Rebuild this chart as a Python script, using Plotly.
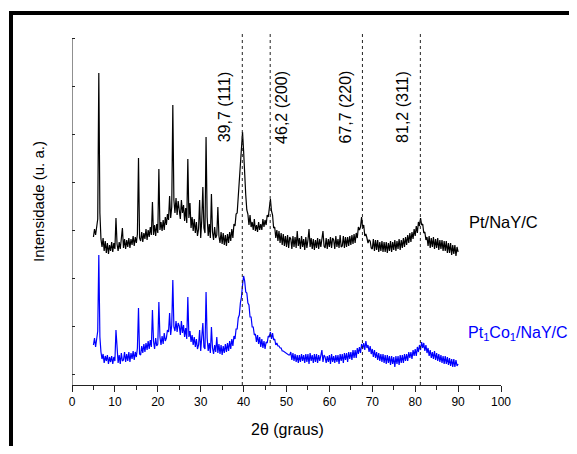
import plotly.graph_objects as go

# 2-theta grid (degrees), 0.25 deg step from 5 to 90
two_theta = [5 + 0.25 * i for i in range(341)]

# Pt/NaY/C (black), arbitrary units (one row per degree)
pt_nay_c = [
    148, 156, 150, 160,
    166, 312, 172, 146,
    138, 147, 134, 144,
    132, 142, 131, 140,
    134, 143, 133, 142,
    136, 167, 141, 134,
    143, 136, 145, 157,
    137, 146, 136, 145,
    138, 147, 137, 146,
    140, 149, 139, 148,
    142, 151, 227, 147,
    144, 153, 143, 152,
    146, 156, 145, 155,
    148, 158, 150, 183,
    150, 160, 149, 161,
    152, 216, 155, 163,
    154, 165, 155, 168,
    160, 171, 165, 189,
    167, 178, 280, 185,
    172, 187, 170, 184,
    175, 166, 185, 172,
    180, 164, 177, 162,
    226, 167, 182, 157,
    168, 154, 166, 152,
    163, 149, 156, 185,
    147, 165, 198, 157,
    152, 248, 168, 149,
    161, 147, 191, 153,
    145, 158, 147, 150,
    178, 149, 142, 153,
    141, 152, 140, 150,
    139, 151, 142, 153,
    144, 156, 147, 161,
    159, 171, 172, 190,
    198, 218, 236, 253,
    234, 203, 190, 175,
    171, 160, 170, 158,
    163, 155, 166, 154,
    160, 153, 163, 155,
    161, 155, 166, 158,
    165, 160, 170, 168,
    180, 186, 174, 170,
    157, 158, 147, 155,
    144, 154, 142, 152,
    140, 151, 139, 149,
    138, 150, 137, 148,
    146, 136, 149, 138,
    148, 137, 154, 139,
    147, 136, 149, 138,
    146, 135, 148, 137,
    145, 156, 138, 147,
    136, 146, 135, 145,
    137, 147, 136, 146,
    138, 148, 154, 139,
    137, 147, 136, 146,
    138, 148, 137, 147,
    145, 136, 149, 138,
    146, 137, 150, 138,
    139, 149, 137, 148,
    138, 148, 139, 149,
    140, 150, 141, 151,
    142, 152, 147, 158,
    155, 158, 168, 157,
    160, 149, 151, 147,
    142, 145, 144, 137,
    136, 146, 134, 145,
    135, 145, 133, 143,
    134, 144, 133, 143,
    133, 143, 132, 142,
    134, 144, 133, 143,
    135, 145, 134, 144,
    136, 146, 135, 145,
    137, 147, 138, 148,
    140, 150, 142, 152,
    143, 153, 146, 156,
    149, 159, 152, 163,
    159, 167, 160, 161,
    152, 153, 145, 148,
    139, 149, 137, 147,
    138, 148, 136, 146,
    137, 147, 135, 145,
    136, 145, 134, 144,
    134, 144, 132, 142,
    132, 142, 130, 140,
    131, 140, 129, 138,
    133,
]

# Pt1Co1/NaY/C (blue), arbitrary units (one row per degree)
pt1co1_nay_c = [
    40, 47, 38, 50,
    54, 130, 48, 33,
    26, 31, 22, 29,
    24, 30, 21, 28,
    23, 29, 21, 28,
    24, 55, 31, 22,
    30, 21, 32, 24,
    25, 33, 23, 31,
    24, 33, 23, 32,
    26, 34, 25, 33,
    28, 37, 77, 31,
    30, 39, 32, 41,
    33, 42, 35, 44,
    36, 45, 38, 75,
    44, 36, 47, 39,
    41, 83, 48, 40,
    49, 41, 52, 44,
    47, 55, 53, 72,
    50, 60, 105, 58,
    54, 64, 53, 62,
    59, 50, 64, 52,
    60, 48, 57, 46,
    88, 48, 54, 43,
    50, 40, 48, 38,
    46, 36, 40, 55,
    34, 46, 62, 38,
    36, 93, 47, 34,
    42, 32, 58, 37,
    31, 40, 33, 48,
    32, 41, 31, 40,
    30, 39, 32, 41,
    33, 42, 34, 44,
    36, 46, 39, 49,
    46, 56, 56, 67,
    70, 82, 88, 100,
    109, 104, 93, 92,
    82, 80, 68, 68,
    58, 58, 50, 51,
    43, 50, 41, 48,
    38, 46, 37, 44,
    36, 43, 42, 49,
    48, 53, 46, 52,
    45, 46, 40, 42,
    39, 39, 37, 37,
    34, 34, 33, 33,
    31, 31, 30, 30,
    33, 25, 32, 24,
    31, 23, 30, 22,
    30, 23, 31, 24,
    30, 22, 31, 23,
    31, 21, 32, 24,
    30, 22, 31, 23,
    31, 22, 30, 24,
    29, 35, 23, 30,
    28, 22, 29, 23,
    30, 21, 31, 23,
    29, 22, 30, 23,
    30, 21, 31, 24,
    31, 22, 32, 25,
    32, 23, 33, 26,
    33, 25, 35, 27,
    35, 27, 37, 31,
    38, 32, 41, 36,
    42, 35, 44, 37,
    40, 33, 39, 31,
    36, 28, 35, 27,
    33, 25, 32, 24,
    31, 23, 31, 22,
    30, 21, 30, 22,
    29, 20, 29, 21,
    28, 18, 29, 21,
    29, 20, 30, 22,
    30, 22, 31, 24,
    31, 24, 33, 27,
    33, 26, 35, 29,
    36, 29, 38, 33,
    40, 35, 43, 37,
    42, 34, 40, 32,
    37, 29, 35, 27,
    33, 26, 34, 25,
    32, 24, 31, 23,
    30, 22, 29, 21,
    29, 21, 28, 20,
    27, 19, 26, 18,
    26, 18, 25, 19,
    21,
]

# Reflection positions and labels
peak_positions = [39.7, 46.2, 67.7, 81.2]
peak_labels = ["39,7 (111)", "46,2 (200)", "67,7 (220)", "81,2 (311)"]
peak_label_x = [35.5, 48.7, 63.75, 76.9]

x_ticks = [0, 10, 20, 30, 40, 50, 60, 70, 80, 90, 100]

FONT = "Arial"
Y_TOP = 351
Y_AXIS_TOP = 346.3

fig = go.Figure()
fig.add_trace(go.Scatter(x=two_theta, y=pt_nay_c, mode="lines",
                         line=dict(color="black", width=1.2), showlegend=False))
fig.add_trace(go.Scatter(x=two_theta, y=pt1co1_nay_c, mode="lines",
                         line=dict(color="#0000ff", width=1.2), showlegend=False))

shapes = []
for p in peak_positions:
    shapes.append(dict(type="line", xref="x", yref="y", x0=p, x1=p, y0=0, y1=Y_TOP,
                       line=dict(color="#222", width=1, dash="dot"), layer="above"))
# y axis line
shapes.append(dict(type="line", xref="x", yref="y", x0=0, x1=0, y0=0, y1=Y_AXIS_TOP,
                   line=dict(color="#222", width=1)))
# outer thick frame (top and left)
shapes.append(dict(type="path", xref="paper", yref="paper",
                   path="M -0.1422,-0.3 L -0.1422,1.0598 L 1.3,1.0598",
                   line=dict(color="black", width=4)))

annotations = []
for lx, lab in zip(peak_label_x, peak_labels):
    annotations.append(dict(x=lx, y=278, xref="x", yref="y", text=lab, textangle=-90,
                            showarrow=False, xanchor="center", yanchor="middle",
                            font=dict(family=FONT, size=16, color="black")))
annotations.append(dict(x=92.1, y=163, xref="x", yref="y", text="Pt/NaY/C",
                        showarrow=False, xanchor="left", yanchor="middle",
                        font=dict(family=FONT, size=16.5, color="black")))
annotations.append(dict(x=91.9, y=52, xref="x", yref="y",
                        text="Pt<sub>1</sub>Co<sub>1</sub>/NaY/C",
                        showarrow=False, xanchor="left", yanchor="middle",
                        font=dict(family=FONT, size=16, color="#0000ff")))
annotations.append(dict(x=-0.0793, y=184, xref="paper", yref="y",
                        text="Intensidade (u. a.)", textangle=-90,
                        showarrow=False, xanchor="center", yanchor="middle",
                        font=dict(family=FONT, size=15, color="black")))
annotations.append(dict(x=50.2, y=-0.128, xref="x", yref="paper",
                        text="2θ (graus)", showarrow=False,
                        xanchor="center", yanchor="middle",
                        font=dict(family=FONT, size=16, color="black")))

# The page body has an 8px margin, so the figure is sized/offset accordingly.
fig.update_layout(
    width=569, height=438,
    margin=dict(l=64, r=76, t=26, b=61, pad=0),
    paper_bgcolor="white", plot_bgcolor="white",
    shapes=shapes, annotations=annotations,
    xaxis=dict(range=[0, 100], tickvals=x_ticks, ticktext=[str(t) for t in x_ticks],
               ticks="outside", ticklen=6, tickwidth=1, tickcolor="#222",
               showline=True, linecolor="#222", linewidth=1,
               showgrid=False, zeroline=False,
               minor=dict(dtick=5, tick0=0, ticks="outside", ticklen=4,
                          tickcolor="#222", showgrid=False),
               tickfont=dict(family=FONT, size=12, color="black")),
    yaxis=dict(range=[0, Y_TOP], tick0=11, dtick=47.9, ticks="inside", ticklen=3,
               tickcolor="#222", showticklabels=False, showline=False,
               showgrid=False, zeroline=False),
)

fig.write_html("out.html")
